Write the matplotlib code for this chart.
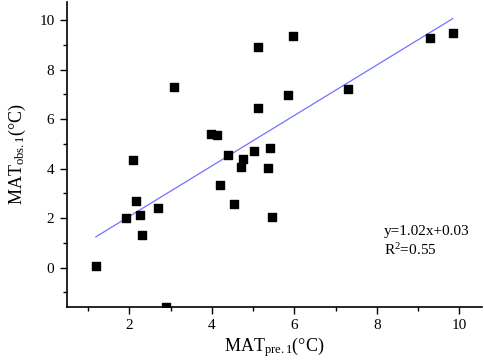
import numpy as np
import matplotlib
matplotlib.use('Agg')
import matplotlib.pyplot as plt
from matplotlib.ticker import MultipleLocator

plt.rcParams['font.family'] = ['Liberation Serif', 'DejaVu Serif']
plt.rcParams['mathtext.fontset'] = 'custom'
plt.rcParams['mathtext.rm'] = 'Liberation Serif'
plt.rcParams['mathtext.it'] = 'Liberation Serif:italic'

mat_pre = [1.19, 1.93, 2.09, 2.17, 2.25, 2.32, 2.69, 2.88, 3.08, 3.99,
           4.12, 4.20, 4.39, 4.54, 4.70, 4.75, 5.02, 5.13, 5.13, 5.41,
           5.36, 5.45, 5.85, 5.98, 7.29, 9.30, 9.84]
mat_obs = [0.08, 2.01, 4.36, 2.69, 2.12, 1.31, 2.42, -1.58, 7.31, 5.40,
           5.35, 3.34, 4.54, 2.59, 4.06, 4.40, 4.70, 8.93, 6.46, 4.82,
           4.04, 2.06, 6.98, 9.37, 7.23, 9.28, 9.49]

slope = 1.02
intercept = 0.03
fit_text = 'y=1.02x+0.03\nR$^2$=0.55'

fig = plt.figure(figsize=(4.84, 3.62), dpi=100)
ax = fig.add_axes([0.1384, 0.1528, 0.8575, 0.8425])

ax.scatter(mat_pre, mat_obs, marker='s', s=30, color='black', zorder=3, clip_on=True)

xf = np.array([min(mat_pre), max(mat_pre)])
ax.plot(xf, slope*xf+intercept, color='#7272ff', lw=0.9, zorder=2)

ax.set_xlim(0.49, 10.55)
ax.set_ylim(-1.58, 10.75)
ax.xaxis.set_major_locator(MultipleLocator(2))
ax.xaxis.set_minor_locator(MultipleLocator(1))
ax.yaxis.set_major_locator(MultipleLocator(2))
ax.yaxis.set_minor_locator(MultipleLocator(1))
ax.tick_params(which='major', direction='out', length=5, width=1, labelsize=11, pad=4)
ax.tick_params(which='minor', direction='out', length=3, width=1)

for s in ['top', 'right']:
    ax.spines[s].set_visible(False)
for s in ['left', 'bottom']:
    ax.spines[s].set_linewidth(1.2)

ax.set_xlabel(r'MAT$_{\mathrm{pre.1}}$(°C)', fontsize=13, labelpad=2)
ax.set_ylabel(r'MAT$_{\mathrm{obs.1}}$(°C)', fontsize=13, labelpad=8)

ax.text(8.17, 1.04, fit_text, fontsize=11, va='center', ha='left', linespacing=1.3)

fig.savefig('out.png', dpi=100)
